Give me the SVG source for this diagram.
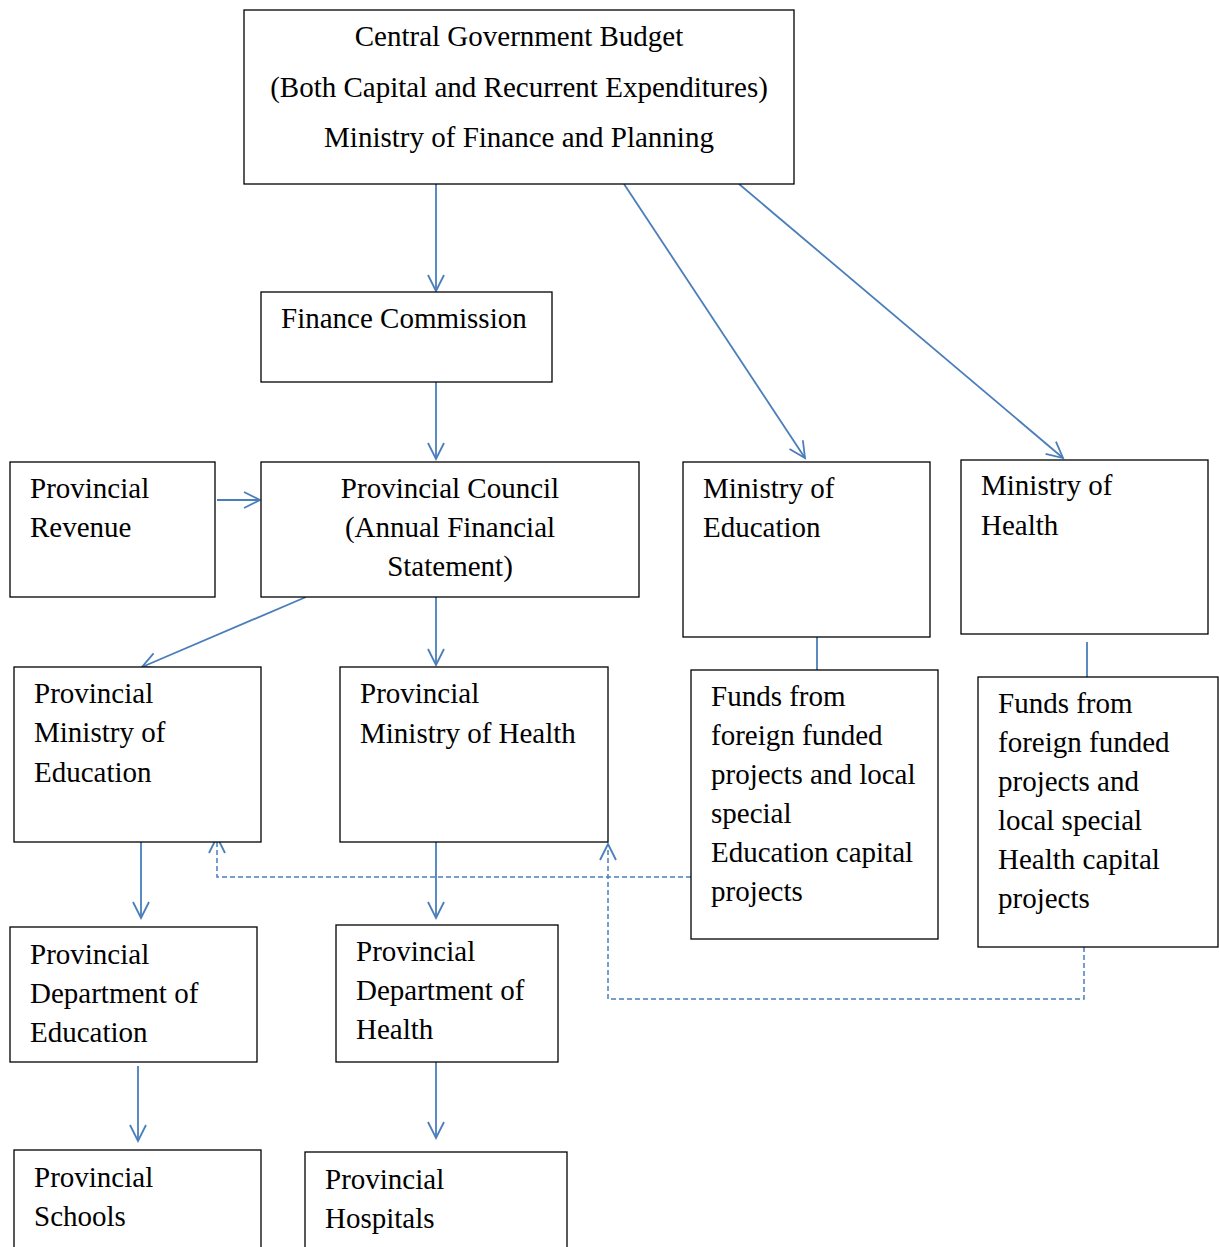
<svg xmlns="http://www.w3.org/2000/svg" width="1219" height="1247" viewBox="0 0 1219 1247">
<defs>
<marker id="a" markerUnits="userSpaceOnUse" markerWidth="22" markerHeight="22" refX="18" refY="9" orient="auto" viewBox="0 0 22 18">
<path d="M2,1 L18,9 L2,17" fill="none" stroke="#4A7EBB" stroke-width="1.8"/>
</marker>
</defs>
<rect width="1219" height="1247" fill="#fff"/>
<g id="connectors" fill="none" stroke="#4A7EBB" stroke-width="1.8">
<path d="M436,184 V291" marker-end="url(#a)"/>
<path d="M624,184 L805,458" marker-end="url(#a)"/>
<path d="M739,184 L1063,458" marker-end="url(#a)"/>
<path d="M436,382 V459" marker-end="url(#a)"/>
<path d="M217,500 H260" marker-end="url(#a)"/>
<path d="M306,597 L142,667" marker-end="url(#a)"/>
<path d="M436,597 V665" marker-end="url(#a)"/>
<path d="M817,635 V670"/>
<path d="M1087,642 V677"/>
<path d="M141,842 V918" marker-end="url(#a)"/>
<path d="M436,842 V918" marker-end="url(#a)"/>
<path d="M138,1066 V1141" marker-end="url(#a)"/>
<path d="M436,1062 V1138" marker-end="url(#a)"/>
<path d="M691,877 H217 V837" stroke-dasharray="5,3" stroke-width="1.5" marker-end="url(#a)"/>
<path d="M1084,947 V999 H608 V844" stroke-dasharray="5,3" stroke-width="1.5" marker-end="url(#a)"/>
</g>
<g font-family="Liberation Serif" font-size="29" fill="#000">
<g id="central">
<rect x="244" y="10" width="550" height="174" fill="#fff" stroke="#000" stroke-width="1.3"/>
<text style="font-family:'Liberation Serif',serif;font-size:29px" text-anchor="middle" x="519" y="46">Central Government Budget</text>
<text style="font-family:'Liberation Serif',serif;font-size:29px" text-anchor="middle" x="519" y="97">(Both Capital and Recurrent Expenditures)</text>
<text style="font-family:'Liberation Serif',serif;font-size:29px" text-anchor="middle" x="519" y="147">Ministry of Finance and Planning</text>
</g>
<g id="finance-commission">
<rect x="261" y="292" width="291" height="90" fill="#fff" stroke="#000" stroke-width="1.3"/>
<text style="font-family:'Liberation Serif',serif;font-size:29px" x="281" y="328">Finance Commission</text>
</g>
<g id="provincial-revenue">
<rect x="10" y="462" width="205" height="135" fill="#fff" stroke="#000" stroke-width="1.3"/>
<text style="font-family:'Liberation Serif',serif;font-size:29px" x="30" y="498">Provincial</text>
<text style="font-family:'Liberation Serif',serif;font-size:29px" x="30" y="537">Revenue</text>
</g>
<g id="provincial-council">
<rect x="261" y="462" width="378" height="135" fill="#fff" stroke="#000" stroke-width="1.3"/>
<text style="font-family:'Liberation Serif',serif;font-size:29px" text-anchor="middle" x="450" y="498">Provincial Council</text>
<text style="font-family:'Liberation Serif',serif;font-size:29px" text-anchor="middle" x="450" y="537">(Annual Financial</text>
<text style="font-family:'Liberation Serif',serif;font-size:29px" text-anchor="middle" x="450" y="576">Statement)</text>
</g>
<g id="ministry-education">
<rect x="683" y="462" width="247" height="175" fill="#fff" stroke="#000" stroke-width="1.3"/>
<text style="font-family:'Liberation Serif',serif;font-size:29px" x="703" y="498">Ministry of</text>
<text style="font-family:'Liberation Serif',serif;font-size:29px" x="703" y="537">Education</text>
</g>
<g id="ministry-health">
<rect x="961" y="460" width="247" height="174" fill="#fff" stroke="#000" stroke-width="1.3"/>
<text style="font-family:'Liberation Serif',serif;font-size:29px" x="981" y="495">Ministry of</text>
<text style="font-family:'Liberation Serif',serif;font-size:29px" x="981" y="535">Health</text>
</g>
<g id="prov-ministry-education">
<rect x="14" y="667" width="247" height="175" fill="#fff" stroke="#000" stroke-width="1.3"/>
<text style="font-family:'Liberation Serif',serif;font-size:29px" x="34" y="703">Provincial</text>
<text style="font-family:'Liberation Serif',serif;font-size:29px" x="34" y="742">Ministry of</text>
<text style="font-family:'Liberation Serif',serif;font-size:29px" x="34" y="782">Education</text>
</g>
<g id="prov-ministry-health">
<rect x="340" y="667" width="268" height="175" fill="#fff" stroke="#000" stroke-width="1.3"/>
<text style="font-family:'Liberation Serif',serif;font-size:29px" x="360" y="703">Provincial</text>
<text style="font-family:'Liberation Serif',serif;font-size:29px" x="360" y="743">Ministry of Health</text>
</g>
<g id="funds-education">
<rect x="691" y="670" width="247" height="269" fill="#fff" stroke="#000" stroke-width="1.3"/>
<text style="font-family:'Liberation Serif',serif;font-size:29px" x="711" y="706">Funds from</text>
<text style="font-family:'Liberation Serif',serif;font-size:29px" x="711" y="745">foreign funded</text>
<text style="font-family:'Liberation Serif',serif;font-size:29px" x="711" y="784">projects and local</text>
<text style="font-family:'Liberation Serif',serif;font-size:29px" x="711" y="823">special</text>
<text style="font-family:'Liberation Serif',serif;font-size:29px" x="711" y="862">Education capital</text>
<text style="font-family:'Liberation Serif',serif;font-size:29px" x="711" y="901">projects</text>
</g>
<g id="funds-health">
<rect x="978" y="677" width="240" height="270" fill="#fff" stroke="#000" stroke-width="1.3"/>
<text style="font-family:'Liberation Serif',serif;font-size:29px" x="998" y="713">Funds from</text>
<text style="font-family:'Liberation Serif',serif;font-size:29px" x="998" y="752">foreign funded</text>
<text style="font-family:'Liberation Serif',serif;font-size:29px" x="998" y="791">projects and</text>
<text style="font-family:'Liberation Serif',serif;font-size:29px" x="998" y="830">local special</text>
<text style="font-family:'Liberation Serif',serif;font-size:29px" x="998" y="869">Health capital</text>
<text style="font-family:'Liberation Serif',serif;font-size:29px" x="998" y="908">projects</text>
</g>
<g id="prov-dept-education">
<rect x="10" y="927" width="247" height="135" fill="#fff" stroke="#000" stroke-width="1.3"/>
<text style="font-family:'Liberation Serif',serif;font-size:29px" x="30" y="964">Provincial</text>
<text style="font-family:'Liberation Serif',serif;font-size:29px" x="30" y="1003">Department of</text>
<text style="font-family:'Liberation Serif',serif;font-size:29px" x="30" y="1042">Education</text>
</g>
<g id="prov-dept-health">
<rect x="336" y="925" width="222" height="137" fill="#fff" stroke="#000" stroke-width="1.3"/>
<text style="font-family:'Liberation Serif',serif;font-size:29px" x="356" y="961">Provincial</text>
<text style="font-family:'Liberation Serif',serif;font-size:29px" x="356" y="1000">Department of</text>
<text style="font-family:'Liberation Serif',serif;font-size:29px" x="356" y="1039">Health</text>
</g>
<g id="prov-schools">
<rect x="14" y="1150" width="247" height="110" fill="#fff" stroke="#000" stroke-width="1.3"/>
<text style="font-family:'Liberation Serif',serif;font-size:29px" x="34" y="1187">Provincial</text>
<text style="font-family:'Liberation Serif',serif;font-size:29px" x="34" y="1226">Schools</text>
</g>
<g id="prov-hospitals">
<rect x="305" y="1152" width="262" height="110" fill="#fff" stroke="#000" stroke-width="1.3"/>
<text style="font-family:'Liberation Serif',serif;font-size:29px" x="325" y="1189">Provincial</text>
<text style="font-family:'Liberation Serif',serif;font-size:29px" x="325" y="1228">Hospitals</text>
</g>
</g>
</svg>
